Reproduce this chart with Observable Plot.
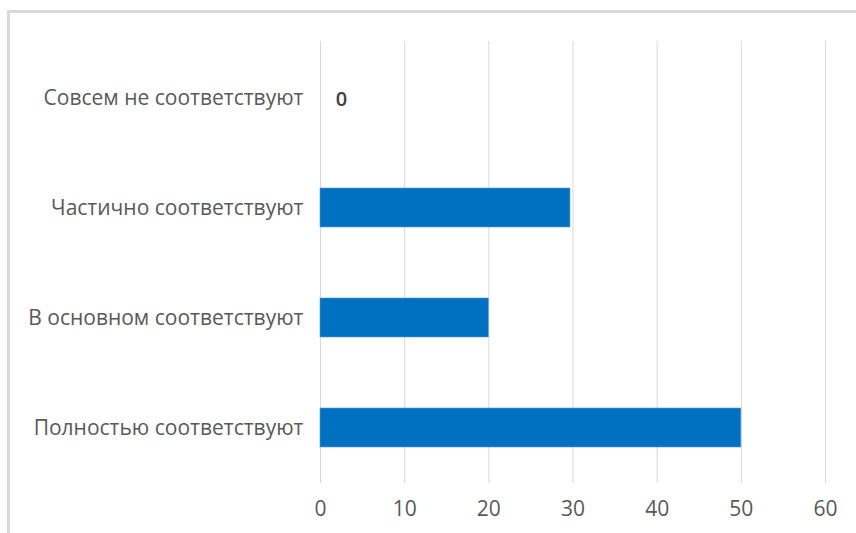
<!DOCTYPE html>
<html>
<head>
<meta charset="utf-8">
<script src="https://cdn.jsdelivr.net/npm/d3@7"></script>
<script src="https://cdn.jsdelivr.net/npm/@observablehq/plot@0.6"></script>
<style>
  body { margin: 0; background: #fff; }
  #wrap { position: relative; width: 856px; height: 533px; overflow: hidden; }
  #frame { position: absolute; left: 7px; top: 10px; width: 860px; height: 540px;
           border-top: 3px solid #d9d9d9; border-left: 3px solid #d9d9d9; pointer-events: none; }
</style>
</head>
<body>
<div id="wrap"><div id="frame"></div></div>
<script>
const categories = [
  "Совсем не соответствуют",
  "Частично соответствуют",
  "В основном соответствуют",
  "Полностью соответствуют"
];
const values = [0, 29.7, 20, 50];
const xTicks = [0, 10, 20, 30, 40, 50, 60];

const data = categories.map((c, i) => ({category: c, value: values[i]}));
const font = "'Open Sans', Lato, sans-serif";

const chart = Plot.plot({
  width: 856,
  height: 533,
  marginLeft: 320,
  marginRight: 31,
  marginTop: 41,
  marginBottom: 50,
  style: {fontFamily: font, background: "transparent"},
  x: {domain: [0, 60], ticks: xTicks},
  y: {domain: categories, paddingInner: 0.65, paddingOuter: 0.325},
  marks: [
    Plot.gridX(xTicks, {stroke: "#d9d9d9", strokeOpacity: 1, strokeWidth: 1}),
    Plot.barX(data, {x: "value", y: "category", fill: "#0070c0", stroke: "#5b9bd5", strokeWidth: 0.6}),
    Plot.text(data.filter(d => d.value === 0), {
      x: "value", y: "category", text: d => String(d.value),
      dx: 21, dy: 2, fontSize: 20, fontWeight: 600, fill: "#404040", textAnchor: "middle"
    }),
    Plot.axisX({ticks: xTicks, tickSize: 0, tickPadding: 18, fontSize: 21, color: "#595959", label: null}),
    Plot.axisY({tickSize: 0, tickPadding: 17, fontSize: 21, color: "#595959", label: null})
  ]
});
document.getElementById("wrap").prepend(chart);
</script>
</body>
</html>
